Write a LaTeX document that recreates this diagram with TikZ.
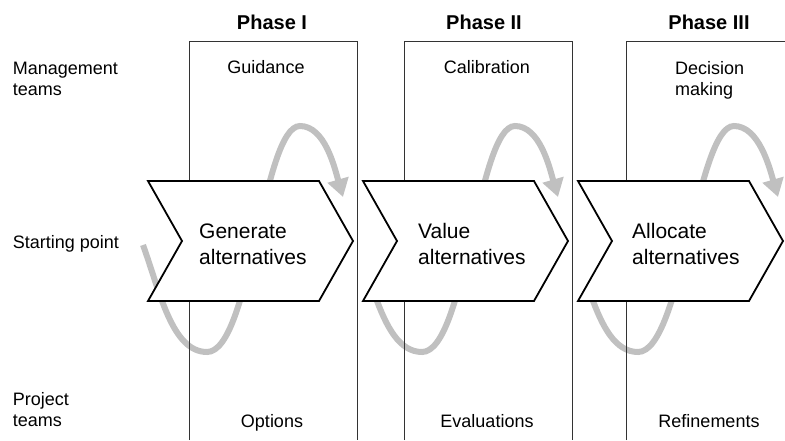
\documentclass[tikz,border=0pt]{standalone}
\usepackage{fontspec}
\setmainfont{Liberation Sans}
\usetikzlibrary{arrows.meta}
\definecolor{loopgrey}{RGB}{192,192,192}
\tikzset{
  lbl/.style={font=\fontsize{18}{21}\selectfont, align=left, inner sep=0pt},
  phase/.style={font=\fontsize{20}{24}\selectfont\bfseries, inner sep=0pt},
  stage/.style={font=\fontsize{21}{25.7}\selectfont, align=left, inner sep=0pt},
  lane/.style={line width=0.9pt, black!80},
  chevron/.style={line width=1.8pt, fill=white, line join=miter},
  cycleline/.style={line width=6pt, loopgrey, -{Triangle[width=21pt,length=18pt]}}
}
\begin{document}
\begin{tikzpicture}[x=1pt,y=1pt]
    \useasboundingbox (0,0) rectangle (785,440);
    \draw [cycleline] (143,195) .. controls (160,148) and (172,88) .. (207,88)
        .. controls +(43.5,0) and +(-37.4,0) .. (300,314)
        .. controls +(25,0) and +(-8.3,28.8) .. (343,243);
    \foreach \bx/\px/\tx in {422/515/558, 638/734/778}
        \draw [cycleline] (\bx-46.8,144) .. controls (\bx-35.8,113.4) and (\bx-22.75,88) .. (\bx,88)
            .. controls +(43.5,0) and +(-37.4,0) .. (\px,314)
            .. controls +(25,0) and +(-8.3,28.8) .. (\tx,243);
    \foreach \lx in {189,404}
        \draw [lane] (\lx,0) -- (\lx,399) -- (\lx+168,399) -- (\lx+168,0);
    \draw [lane] (626,0) -- (626,399) -- (785,399);
    \foreach \cx in {148,363,578}
        \draw [chevron] (\cx,259) -- (\cx+171,259) -- (\cx+205,199) -- (\cx+171,139) -- (\cx,139) -- (\cx+34,199) -- cycle;
    \node [phase, anchor=base] (ph1) at (272,410) {Phase I};
    \node [phase, anchor=base] (ph2) at (484,410) {Phase II};
    \node [phase, anchor=base] (ph3) at (709,410) {Phase III};
    \node [lbl, anchor=base west] (mgmt) at (12.7,344) {Management\\teams};
    \node [lbl, anchor=base west] (start) at (12.7,192) {Starting point};
    \node [lbl, anchor=base west] (proj) at (12.7,14) {Project\\teams};
    \node [lbl, anchor=base] (guid) at (266,366) {Guidance};
    \node [lbl, anchor=base] (calib) at (487,366) {Calibration};
    \node [lbl, anchor=base west] (decide) at (675,344) {Decision\\making};
    \node [lbl, anchor=base] (opts) at (272,13) {Options};
    \node [lbl, anchor=base] (evals) at (487,13) {Evaluations};
    \node [lbl, anchor=base] (refine) at (709,13) {Refinements};
    \node [stage, anchor=base west] (gen) at (199,176) {Generate\\alternatives};
    \node [stage, anchor=base west] (val) at (418,176) {Value\\alternatives};
    \node [stage, anchor=base west] (alloc) at (632,176) {Allocate\\alternatives};
\end{tikzpicture}
\end{document}
